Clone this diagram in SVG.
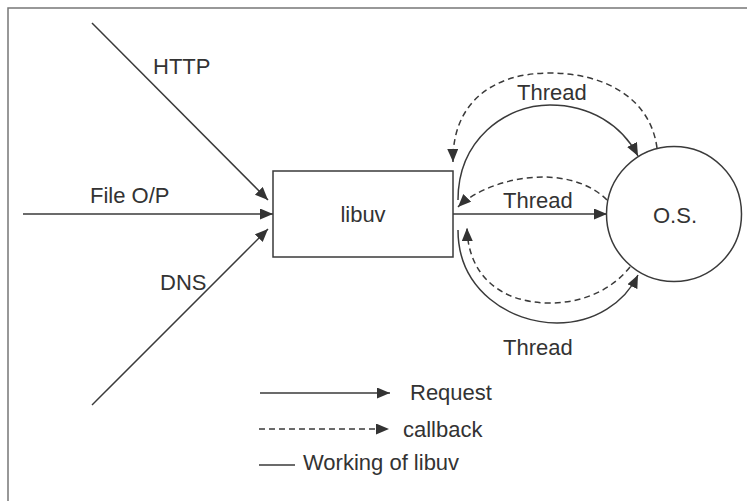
<svg xmlns="http://www.w3.org/2000/svg" width="747" height="501" viewBox="0 0 747 501">
<style>
.ln{stroke:#3a3a3a;stroke-width:1.5;fill:none}
.ds{stroke:#3a3a3a;stroke-width:1.5;fill:none;stroke-dasharray:6 4}
.nd{stroke:#3a3a3a;stroke-width:1.5;fill:#fff}
.t{font-family:"Liberation Sans",Arial,sans-serif;font-size:22px;fill:#333}
</style>
<defs>
<marker id="ah" markerUnits="userSpaceOnUse" markerWidth="14" markerHeight="12" refX="13" refY="5.5" orient="auto">
<path d="M0,0 L13,5.5 L0,11 z" fill="#333"/>
</marker>
</defs>
<rect width="747" height="501" fill="#fff"/>
<g id="frame">
<path d="M8,501 L8,8 L747,8" stroke="#777" stroke-width="1.5" fill="none"/>
</g>
<g id="connectors">
<line class="ln" x1="92" y1="23" x2="268" y2="200" marker-end="url(#ah)"/>
<line class="ln" x1="23" y1="214" x2="273" y2="214" marker-end="url(#ah)"/>
<line class="ln" x1="92" y1="405" x2="268" y2="229" marker-end="url(#ah)"/>
<line class="ln" x1="453" y1="214" x2="607" y2="214" marker-end="url(#ah)"/>
<path class="ln" d="M458,200 C458,140 505,105 550,105 C590,105 622,125 638,156" marker-end="url(#ah)"/>
<path class="ds" d="M657,148 C650,95 600,73 550,73 C490,73 452,105 453,162" marker-end="url(#ah)"/>
<path class="ds" d="M607,200 C590,183 565,177 543,177 C510,177 475,190 458,207" marker-end="url(#ah)"/>
<path class="ds" d="M630,267 C610,292 580,303 550,303 C500,303 468,275 467,228" marker-end="url(#ah)"/>
<path class="ln" d="M458,230 C458,290 510,323 557,323 C595,323 625,302 638,275" marker-end="url(#ah)"/>
</g>
<g id="libuv">
<rect class="nd" x="273" y="171" width="180" height="86"/>
<text class="t" x="363" y="222" text-anchor="middle">libuv</text>
</g>
<g id="os">
<circle class="nd" cx="674" cy="214" r="67.5"/>
<text class="t" x="675" y="223" text-anchor="middle">O.S.</text>
</g>
<g id="labels">
<text class="t" x="153" y="74">HTTP</text>
<text class="t" x="90" y="203">File O/P</text>
<text class="t" x="160" y="290">DNS</text>
<text class="t" x="517" y="100">Thread</text>
<text class="t" x="503" y="208">Thread</text>
<text class="t" x="503" y="355">Thread</text>
</g>
<g id="legend">
<line class="ln" x1="260" y1="393" x2="390" y2="393" marker-end="url(#ah)"/>
<text class="t" x="410" y="400">Request</text>
<line class="ds" x1="259" y1="429" x2="389" y2="429" marker-end="url(#ah)"/>
<text class="t" x="403" y="437">callback</text>
<line class="ln" x1="259" y1="465" x2="295" y2="465"/>
<text class="t" x="303" y="470">Working of libuv</text>
</g>
</svg>
